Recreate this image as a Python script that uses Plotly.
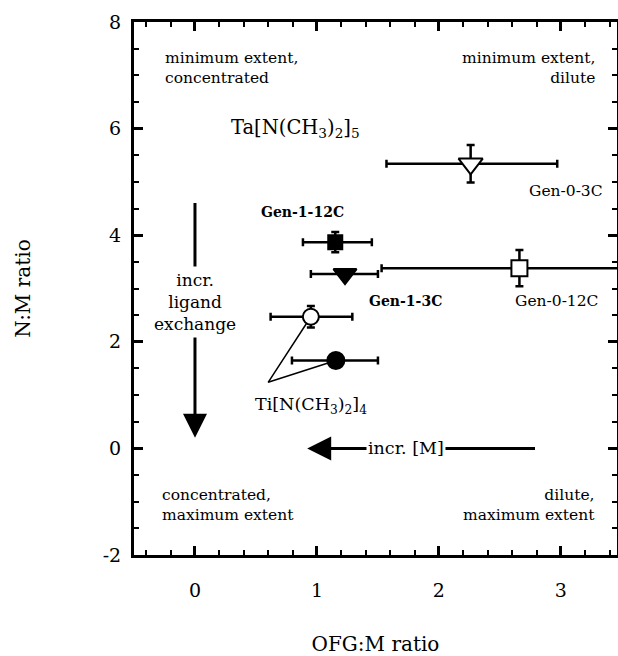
import plotly.graph_objects as go

# ---- data ----
names = ["Gen-0-3C", "Gen-1-12C", "Gen-1-3C", "Gen-0-12C", "Ti-open", "Ti-filled"]
x_vals = [2.26, 1.15, 1.23, 2.66, 0.95, 1.155]
y_vals = [5.34, 3.87, 3.27, 3.38, 2.47, 1.65]
x_err_minus = [0.69, 0.265, 0.28, 1.13, 0.33, 0.36]
x_err_plus = [0.71, 0.30, 0.27, 1.50, 0.34, 0.345]
y_err = [0.35, 0.19, 0.08, 0.34, 0.20, 0.08]
symbols = ["triangle-down", "square", "triangle-down", "square", "circle", "circle"]
fills = ["white", "black", "black", "white", "white", "black"]
sizes = [21, 14, 20, 16, 16, 17]

x_ticks = [0, 1, 2, 3]
x_tick_text = ["0", "1", "2", "3"]
y_ticks = [-2, 0, 2, 4, 6, 8]
y_tick_text = ["-2", "0", "2", "4", "6", "8"]

FONT = "DejaVu Serif"
fig = go.Figure()

# leader lines for Ti[N(CH3)2]4 label
lead_x = [x_vals[4], 0.60, x_vals[5]]
lead_y = [y_vals[4], 1.24, y_vals[5]]
fig.add_trace(go.Scatter(x=lead_x, y=lead_y, mode="lines",
                         line=dict(color="black", width=1.5), hoverinfo="skip", showlegend=False))

for i in range(len(names)):
    fig.add_trace(go.Scatter(
        x=[x_vals[i]], y=[y_vals[i]], mode="markers", name=names[i], showlegend=False,
        marker=dict(symbol=symbols[i], size=sizes[i], color=fills[i],
                    line=dict(color="black", width=2)),
        error_x=dict(type="data", symmetric=False, array=[x_err_plus[i]], arrayminus=[x_err_minus[i]],
                     color="black", thickness=2.5, width=4),
        error_y=dict(type="data", array=[y_err[i]], color="black", thickness=2.5, width=4),
    ))

anns = []
# arrows (drawn first so text boxes cover them)
anns.append(dict(x=0, y=0.2, ax=0, ay=4.63, xref="x", yref="y", axref="x", ayref="y",
                 showarrow=True, arrowhead=2, arrowsize=1.6, arrowwidth=3, arrowcolor="black", text=""))
anns.append(dict(x=0.92, y=0, ax=2.80, ay=0, xref="x", yref="y", axref="x", ayref="y",
                 showarrow=True, arrowhead=2, arrowsize=1.6, arrowwidth=3, arrowcolor="black", text=""))

def txt(x, y, s, size=17, xanchor="center", bold=False, bg=None, align="left", pad=2):
    d = dict(x=x, y=y, xref="x", yref="y", text=("<b>%s</b>" % s) if bold else s, showarrow=False,
             xanchor=xanchor, yanchor="middle", align=align,
             font=dict(family=FONT, size=size, color="black"))
    if bg:
        d["bgcolor"] = bg
        d["borderpad"] = pad
    anns.append(d)

txt(-0.26, 7.14, "minimum extent,<br>concentrated", 15.5, "left")
txt(3.30, 7.14, "minimum extent,<br>dilute", 15.5, "right", align="right")
txt(-0.29, -1.06, "concentrated,<br>maximum extent", 15.5, "left")
txt(3.30, -1.06, "dilute,<br>maximum extent", 15.5, "right", align="right")
txt(0.82, 6.0, "Ta[N(CH<sub>3</sub>)<sub>2</sub>]<sub>5</sub>", 19.5)
txt(3.04, 4.83, "Gen-0-3C", 15.5)
txt(0.88, 4.43, "Gen-1-12C", 14, bold=True)
txt(1.73, 2.76, "Gen-1-3C", 14, bold=True)
txt(2.96, 2.76, "Gen-0-12C", 15.5)
txt(0.95, 0.80, "Ti[N(CH<sub>3</sub>)<sub>2</sub>]<sub>4</sub>", 17.5)
txt(0.0, 2.74, "incr.<br>ligand<br>exchange", 17, bg="white", align="center", pad=3)
txt(1.73, 0.0, "incr. [M]", 17.5, bg="white", pad=1)

axis_common = dict(showline=True, linecolor="black", linewidth=3, mirror="ticks",
                   ticks="inside", ticklen=9, tickwidth=2.5, tickcolor="black",
                   showgrid=False, zeroline=False, automargin=False,
                   tickfont=dict(family=FONT, size=19, color="black"))

fig.update_layout(
    width=618, height=656, margin=dict(l=134, r=1, t=22, b=101),
    paper_bgcolor="white", plot_bgcolor="white",
    annotations=anns,
    xaxis=dict(range=[-0.5, 3.46], tickvals=x_ticks, ticktext=x_tick_text, ticklabelstandoff=16,
               minor=dict(dtick=0.2, tick0=0, ticks="inside", ticklen=5, tickwidth=2, tickcolor="black"),
               title=dict(text="OFG:M ratio", font=dict(family=FONT, size=20, color="black"), standoff=42),
               **axis_common),
    yaxis=dict(range=[-2, 8], tickvals=y_ticks, ticktext=y_tick_text, ticklabelstandoff=6,
               minor=dict(dtick=0.5, tick0=0, ticks="inside", ticklen=5, tickwidth=2, tickcolor="black"),
               title=dict(text="N:M ratio", font=dict(family=FONT, size=20, color="black"), standoff=67),
               **axis_common),
)

fig.write_html("out.html")
